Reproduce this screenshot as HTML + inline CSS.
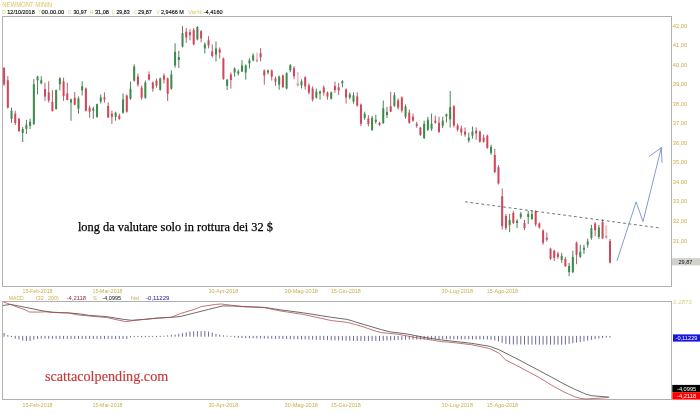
<!DOCTYPE html>
<html><head><meta charset="utf-8"><style>html,body{margin:0;padding:0;background:#fff;}svg{display:block;}</style></head>
<body><svg width="700" height="414" viewBox="0 0 700 414">
<rect width="700" height="414" fill="#fff"/>
<text x="2.2" y="7.0" fill="#dcc45e" font-size="6.6" font-family="Liberation Sans, sans-serif" textLength="50" lengthAdjust="spacingAndGlyphs">NEWMONT MININ</text>
<text x="2.3" y="13.8" fill="#c8d070" font-size="6.0" font-family="Liberation Sans, sans-serif" textLength="3.6" lengthAdjust="spacingAndGlyphs">D</text>
<text x="7.3" y="13.8" fill="#111" font-size="6.0" font-family="Liberation Sans, sans-serif" stroke="#111" stroke-width="0.15" textLength="27.4" lengthAdjust="spacingAndGlyphs">12/10/2018</text>
<text x="38.4" y="13.8" fill="#e0cc70" font-size="6.0" font-family="Liberation Sans, sans-serif" textLength="2.6" lengthAdjust="spacingAndGlyphs">T</text>
<text x="41.6" y="13.8" fill="#111" font-size="6.0" font-family="Liberation Sans, sans-serif" stroke="#111" stroke-width="0.15" textLength="22.7" lengthAdjust="spacingAndGlyphs">00.00.00</text>
<text x="68.1" y="13.8" fill="#dccc70" font-size="6.0" font-family="Liberation Sans, sans-serif" textLength="3.2" lengthAdjust="spacingAndGlyphs">O</text>
<text x="73.4" y="13.8" fill="#111" font-size="6.0" font-family="Liberation Sans, sans-serif" stroke="#111" stroke-width="0.15" textLength="13.4" lengthAdjust="spacingAndGlyphs">30,97</text>
<text x="89.8" y="13.8" fill="#e8c070" font-size="6.0" font-family="Liberation Sans, sans-serif" textLength="3.4" lengthAdjust="spacingAndGlyphs">H</text>
<text x="95.0" y="13.8" fill="#111" font-size="6.0" font-family="Liberation Sans, sans-serif" stroke="#111" stroke-width="0.15" textLength="13.9" lengthAdjust="spacingAndGlyphs">31,08</text>
<text x="111.9" y="13.8" fill="#dcd070" font-size="6.0" font-family="Liberation Sans, sans-serif" textLength="2.8" lengthAdjust="spacingAndGlyphs">L</text>
<text x="116.4" y="13.8" fill="#111" font-size="6.0" font-family="Liberation Sans, sans-serif" stroke="#111" stroke-width="0.15" textLength="13.2" lengthAdjust="spacingAndGlyphs">29,83</text>
<text x="133.9" y="13.8" fill="#dcd070" font-size="6.0" font-family="Liberation Sans, sans-serif" textLength="3.2" lengthAdjust="spacingAndGlyphs">C</text>
<text x="138.1" y="13.8" fill="#111" font-size="6.0" font-family="Liberation Sans, sans-serif" stroke="#111" stroke-width="0.15" textLength="13.8" lengthAdjust="spacingAndGlyphs">29,87</text>
<text x="156.4" y="13.8" fill="#e0d070" font-size="6.0" font-family="Liberation Sans, sans-serif" textLength="3.4" lengthAdjust="spacingAndGlyphs">V</text>
<text x="161.0" y="13.8" fill="#111" font-size="6.0" font-family="Liberation Sans, sans-serif" stroke="#111" stroke-width="0.15" textLength="22.9" lengthAdjust="spacingAndGlyphs">2,9466 M</text>
<text x="187.9" y="13.8" fill="#e0c860" font-size="6.0" font-family="Liberation Sans, sans-serif" textLength="14.5" lengthAdjust="spacingAndGlyphs">Var%</text>
<text x="203.7" y="13.8" fill="#111" font-size="6.0" font-family="Liberation Sans, sans-serif" stroke="#111" stroke-width="0.15" textLength="18.9" lengthAdjust="spacingAndGlyphs">-4,4160</text>
<rect x="2.5" y="16.5" width="669" height="270" fill="none" stroke="#b0b0b0" stroke-width="1"/>
<rect x="2.5" y="301.5" width="669" height="98" fill="none" stroke="#b0b0b0" stroke-width="1"/>
<text x="672.8" y="242.52" fill="#cbae4c" font-size="5.8" font-family="Liberation Sans, sans-serif" textLength="14.4" lengthAdjust="spacingAndGlyphs">31,00</text>
<text x="672.8" y="223.0" fill="#cbae4c" font-size="5.8" font-family="Liberation Sans, sans-serif" textLength="14.4" lengthAdjust="spacingAndGlyphs">32,00</text>
<text x="672.8" y="203.48" fill="#cbae4c" font-size="5.8" font-family="Liberation Sans, sans-serif" textLength="14.4" lengthAdjust="spacingAndGlyphs">33,00</text>
<text x="672.8" y="183.96" fill="#cbae4c" font-size="5.8" font-family="Liberation Sans, sans-serif" textLength="14.4" lengthAdjust="spacingAndGlyphs">34,00</text>
<text x="672.8" y="164.44" fill="#cbae4c" font-size="5.8" font-family="Liberation Sans, sans-serif" textLength="14.4" lengthAdjust="spacingAndGlyphs">35,00</text>
<text x="672.8" y="144.92" fill="#cbae4c" font-size="5.8" font-family="Liberation Sans, sans-serif" textLength="14.4" lengthAdjust="spacingAndGlyphs">36,00</text>
<text x="672.8" y="125.4" fill="#cbae4c" font-size="5.8" font-family="Liberation Sans, sans-serif" textLength="14.4" lengthAdjust="spacingAndGlyphs">37,00</text>
<text x="672.8" y="105.88" fill="#cbae4c" font-size="5.8" font-family="Liberation Sans, sans-serif" textLength="14.4" lengthAdjust="spacingAndGlyphs">38,00</text>
<text x="672.8" y="86.36" fill="#cbae4c" font-size="5.8" font-family="Liberation Sans, sans-serif" textLength="14.4" lengthAdjust="spacingAndGlyphs">39,00</text>
<text x="672.8" y="66.84" fill="#cbae4c" font-size="5.8" font-family="Liberation Sans, sans-serif" textLength="14.4" lengthAdjust="spacingAndGlyphs">40,00</text>
<text x="672.8" y="47.32" fill="#cbae4c" font-size="5.8" font-family="Liberation Sans, sans-serif" textLength="14.4" lengthAdjust="spacingAndGlyphs">41,00</text>
<text x="672.8" y="27.8" fill="#cbae4c" font-size="5.8" font-family="Liberation Sans, sans-serif" textLength="14.4" lengthAdjust="spacingAndGlyphs">42,00</text>
<line x1="4.10" y1="67.0" x2="4.10" y2="86.0" stroke="#a84050" stroke-width="0.85"/>
<rect x="3.10" y="68.0" width="2.0" height="16.3" fill="#d2465a"/>
<line x1="7.82" y1="76.2" x2="7.82" y2="108.6" stroke="#a84050" stroke-width="0.85"/>
<rect x="6.82" y="80.3" width="2.0" height="27.3" fill="#d2465a"/>
<line x1="11.53" y1="107.6" x2="11.53" y2="122.9" stroke="#2e6a3a" stroke-width="0.85"/>
<rect x="10.53" y="110.7" width="2.0" height="8.1" fill="#3d8a4a"/>
<line x1="15.25" y1="110.7" x2="15.25" y2="125.0" stroke="#a84050" stroke-width="0.85"/>
<rect x="14.25" y="113.7" width="2.0" height="9.2" fill="#d2465a"/>
<line x1="18.97" y1="117.8" x2="18.97" y2="132.0" stroke="#a84050" stroke-width="0.85"/>
<rect x="17.97" y="118.8" width="2.0" height="12.2" fill="#d2465a"/>
<line x1="22.69" y1="127.0" x2="22.69" y2="142.0" stroke="#2e6a3a" stroke-width="0.85"/>
<rect x="21.69" y="129.0" width="2.0" height="4.0" fill="#3d8a4a"/>
<line x1="26.40" y1="119.8" x2="26.40" y2="134.0" stroke="#2e6a3a" stroke-width="0.85"/>
<rect x="25.40" y="124.9" width="2.0" height="4.0" fill="#3d8a4a"/>
<line x1="30.12" y1="118.8" x2="30.12" y2="128.9" stroke="#2e6a3a" stroke-width="0.85"/>
<rect x="29.12" y="121.8" width="2.0" height="4.1" fill="#3d8a4a"/>
<line x1="33.84" y1="79.2" x2="33.84" y2="125.0" stroke="#2e6a3a" stroke-width="0.85"/>
<rect x="32.84" y="84.3" width="2.0" height="39.6" fill="#3d8a4a"/>
<line x1="37.55" y1="75.8" x2="37.55" y2="94.5" stroke="#2e6a3a" stroke-width="0.85"/>
<rect x="36.55" y="76.6" width="2.0" height="3.7" fill="#3d8a4a"/>
<line x1="41.27" y1="76.2" x2="41.27" y2="84.3" stroke="#2e6a3a" stroke-width="0.85"/>
<rect x="40.27" y="80.3" width="2.0" height="3.0" fill="#3d8a4a"/>
<line x1="44.99" y1="82.7" x2="44.99" y2="100.9" stroke="#a84050" stroke-width="0.85"/>
<rect x="43.99" y="89.0" width="2.0" height="7.5" fill="#d2465a"/>
<line x1="48.71" y1="81.3" x2="48.71" y2="102.6" stroke="#a84050" stroke-width="0.85"/>
<rect x="47.71" y="92.4" width="2.0" height="8.1" fill="#d2465a"/>
<line x1="52.42" y1="90.2" x2="52.42" y2="111.6" stroke="#a84050" stroke-width="0.85"/>
<rect x="51.42" y="102.0" width="2.0" height="9.0" fill="#d2465a"/>
<line x1="56.14" y1="89.4" x2="56.14" y2="109.7" stroke="#2e6a3a" stroke-width="0.85"/>
<rect x="55.14" y="90.2" width="2.0" height="18.8" fill="#3d8a4a"/>
<line x1="59.86" y1="77.2" x2="59.86" y2="90.4" stroke="#2e6a3a" stroke-width="0.85"/>
<rect x="58.86" y="78.2" width="2.0" height="6.1" fill="#3d8a4a"/>
<line x1="63.57" y1="77.7" x2="63.57" y2="100.9" stroke="#a84050" stroke-width="0.85"/>
<rect x="62.57" y="81.4" width="2.0" height="14.6" fill="#d2465a"/>
<line x1="67.29" y1="82.7" x2="67.29" y2="100.3" stroke="#a84050" stroke-width="0.85"/>
<rect x="66.29" y="93.5" width="2.0" height="6.5" fill="#d2465a"/>
<line x1="71.01" y1="98.5" x2="71.01" y2="120.8" stroke="#2e6a3a" stroke-width="0.85"/>
<rect x="70.01" y="99.5" width="2.0" height="3.1" fill="#3d8a4a"/>
<line x1="74.73" y1="92.1" x2="74.73" y2="105.3" stroke="#a84050" stroke-width="0.85"/>
<rect x="73.73" y="97.8" width="2.0" height="6.9" fill="#d2465a"/>
<line x1="78.44" y1="96.5" x2="78.44" y2="113.7" stroke="#2e6a3a" stroke-width="0.85"/>
<rect x="77.44" y="98.5" width="2.0" height="10.2" fill="#3d8a4a"/>
<line x1="82.16" y1="81.3" x2="82.16" y2="95.5" stroke="#2e6a3a" stroke-width="0.85"/>
<rect x="81.16" y="86.3" width="2.0" height="4.1" fill="#3d8a4a"/>
<line x1="85.88" y1="87.4" x2="85.88" y2="111.7" stroke="#a84050" stroke-width="0.85"/>
<rect x="84.88" y="88.4" width="2.0" height="22.3" fill="#d2465a"/>
<line x1="89.60" y1="105.6" x2="89.60" y2="117.8" stroke="#a84050" stroke-width="0.85"/>
<rect x="88.60" y="107.6" width="2.0" height="4.1" fill="#d2465a"/>
<line x1="93.31" y1="106.6" x2="93.31" y2="118.8" stroke="#2e6a3a" stroke-width="0.85"/>
<rect x="92.31" y="108.6" width="2.0" height="2.1" fill="#3d8a4a"/>
<line x1="97.03" y1="103.6" x2="97.03" y2="117.8" stroke="#2e6a3a" stroke-width="0.85"/>
<rect x="96.03" y="104.2" width="2.0" height="12.6" fill="#3d8a4a"/>
<line x1="100.75" y1="94.5" x2="100.75" y2="103.6" stroke="#2e6a3a" stroke-width="0.85"/>
<rect x="99.75" y="97.5" width="2.0" height="4.1" fill="#3d8a4a"/>
<line x1="104.46" y1="92.4" x2="104.46" y2="102.6" stroke="#a84050" stroke-width="0.85"/>
<rect x="103.46" y="97.5" width="2.0" height="2.0" fill="#d2465a"/>
<line x1="108.18" y1="102.4" x2="108.18" y2="118.0" stroke="#a84050" stroke-width="0.85"/>
<rect x="107.18" y="106.0" width="2.0" height="11.4" fill="#d2465a"/>
<line x1="111.90" y1="110.7" x2="111.90" y2="123.9" stroke="#a84050" stroke-width="0.85"/>
<rect x="110.90" y="113.7" width="2.0" height="3.1" fill="#d2465a"/>
<line x1="115.62" y1="111.7" x2="115.62" y2="120.8" stroke="#2e6a3a" stroke-width="0.85"/>
<rect x="114.62" y="112.7" width="2.0" height="4.1" fill="#3d8a4a"/>
<line x1="119.33" y1="113.7" x2="119.33" y2="119.8" stroke="#a84050" stroke-width="0.85"/>
<rect x="118.33" y="115.7" width="2.0" height="3.1" fill="#d2465a"/>
<line x1="123.05" y1="93.4" x2="123.05" y2="113.7" stroke="#2e6a3a" stroke-width="0.85"/>
<rect x="122.05" y="99.5" width="2.0" height="13.2" fill="#3d8a4a"/>
<line x1="126.77" y1="94.5" x2="126.77" y2="112.7" stroke="#a84050" stroke-width="0.85"/>
<rect x="125.77" y="95.5" width="2.0" height="16.2" fill="#d2465a"/>
<line x1="130.48" y1="81.6" x2="130.48" y2="99.8" stroke="#2e6a3a" stroke-width="0.85"/>
<rect x="129.48" y="88.7" width="2.0" height="10.1" fill="#3d8a4a"/>
<line x1="134.20" y1="64.3" x2="134.20" y2="81.6" stroke="#2e6a3a" stroke-width="0.85"/>
<rect x="133.20" y="66.4" width="2.0" height="14.2" fill="#3d8a4a"/>
<line x1="137.92" y1="73.5" x2="137.92" y2="86.7" stroke="#a84050" stroke-width="0.85"/>
<rect x="136.92" y="76.5" width="2.0" height="8.1" fill="#d2465a"/>
<line x1="141.64" y1="85.6" x2="141.64" y2="99.8" stroke="#a84050" stroke-width="0.85"/>
<rect x="140.64" y="87.7" width="2.0" height="10.1" fill="#d2465a"/>
<line x1="145.35" y1="80.6" x2="145.35" y2="98.8" stroke="#2e6a3a" stroke-width="0.85"/>
<rect x="144.35" y="82.6" width="2.0" height="15.2" fill="#3d8a4a"/>
<line x1="149.07" y1="71.4" x2="149.07" y2="80.6" stroke="#a84050" stroke-width="0.85"/>
<rect x="148.07" y="74.5" width="2.0" height="5.1" fill="#d2465a"/>
<line x1="152.79" y1="81.6" x2="152.79" y2="91.7" stroke="#a84050" stroke-width="0.85"/>
<rect x="151.79" y="82.6" width="2.0" height="6.1" fill="#d2465a"/>
<line x1="156.50" y1="78.5" x2="156.50" y2="87.7" stroke="#a84050" stroke-width="0.85"/>
<rect x="155.50" y="80.6" width="2.0" height="5.0" fill="#d2465a"/>
<line x1="160.22" y1="77.5" x2="160.22" y2="90.7" stroke="#2e6a3a" stroke-width="0.85"/>
<rect x="159.22" y="78.5" width="2.0" height="11.2" fill="#3d8a4a"/>
<line x1="163.94" y1="73.5" x2="163.94" y2="83.6" stroke="#a84050" stroke-width="0.85"/>
<rect x="162.94" y="75.5" width="2.0" height="4.1" fill="#d2465a"/>
<line x1="167.66" y1="77.5" x2="167.66" y2="100.9" stroke="#a84050" stroke-width="0.85"/>
<rect x="166.66" y="78.5" width="2.0" height="15.3" fill="#d2465a"/>
<line x1="171.37" y1="70.4" x2="171.37" y2="89.7" stroke="#2e6a3a" stroke-width="0.85"/>
<rect x="170.37" y="74.5" width="2.0" height="14.2" fill="#3d8a4a"/>
<line x1="175.09" y1="43.2" x2="175.09" y2="67.7" stroke="#2e6a3a" stroke-width="0.85"/>
<rect x="174.09" y="51.8" width="2.0" height="13.7" fill="#3d8a4a"/>
<line x1="178.81" y1="50.8" x2="178.81" y2="68.0" stroke="#2e6a3a" stroke-width="0.85"/>
<rect x="177.81" y="57.0" width="2.0" height="3.0" fill="#3d8a4a"/>
<line x1="182.52" y1="26.1" x2="182.52" y2="47.4" stroke="#2e6a3a" stroke-width="0.85"/>
<rect x="181.52" y="33.2" width="2.0" height="13.2" fill="#3d8a4a"/>
<line x1="186.24" y1="28.0" x2="186.24" y2="42.8" stroke="#a84050" stroke-width="0.85"/>
<rect x="185.24" y="31.7" width="2.0" height="5.8" fill="#d2465a"/>
<line x1="189.96" y1="29.1" x2="189.96" y2="40.3" stroke="#a84050" stroke-width="0.85"/>
<rect x="188.96" y="32.2" width="2.0" height="3.0" fill="#d2465a"/>
<line x1="193.68" y1="28.1" x2="193.68" y2="45.4" stroke="#a84050" stroke-width="0.85"/>
<rect x="192.68" y="30.1" width="2.0" height="14.2" fill="#d2465a"/>
<line x1="197.39" y1="26.1" x2="197.39" y2="40.3" stroke="#2e6a3a" stroke-width="0.85"/>
<rect x="196.39" y="27.1" width="2.0" height="12.2" fill="#3d8a4a"/>
<line x1="201.11" y1="30.1" x2="201.11" y2="42.3" stroke="#a84050" stroke-width="0.85"/>
<rect x="200.11" y="31.2" width="2.0" height="7.1" fill="#d2465a"/>
<line x1="204.83" y1="42.3" x2="204.83" y2="53.5" stroke="#2e6a3a" stroke-width="0.85"/>
<rect x="203.83" y="44.3" width="2.0" height="4.1" fill="#3d8a4a"/>
<line x1="208.54" y1="36.2" x2="208.54" y2="48.4" stroke="#a84050" stroke-width="0.85"/>
<rect x="207.54" y="40.3" width="2.0" height="5.1" fill="#d2465a"/>
<line x1="212.26" y1="44.4" x2="212.26" y2="57.7" stroke="#a84050" stroke-width="0.85"/>
<rect x="211.26" y="51.5" width="2.0" height="4.5" fill="#d2465a"/>
<line x1="215.98" y1="41.5" x2="215.98" y2="61.5" stroke="#2e6a3a" stroke-width="0.85"/>
<rect x="214.98" y="48.5" width="2.0" height="6.0" fill="#3d8a4a"/>
<line x1="219.70" y1="47.4" x2="219.70" y2="58.5" stroke="#a84050" stroke-width="0.85"/>
<rect x="218.70" y="49.4" width="2.0" height="3.1" fill="#d2465a"/>
<line x1="223.41" y1="57.5" x2="223.41" y2="79.8" stroke="#a84050" stroke-width="0.85"/>
<rect x="222.41" y="58.5" width="2.0" height="20.3" fill="#d2465a"/>
<line x1="227.13" y1="78.8" x2="227.13" y2="90.0" stroke="#2e6a3a" stroke-width="0.85"/>
<rect x="226.13" y="79.8" width="2.0" height="6.1" fill="#3d8a4a"/>
<line x1="230.85" y1="72.5" x2="230.85" y2="88.6" stroke="#a84050" stroke-width="0.85"/>
<rect x="229.85" y="74.5" width="2.0" height="5.5" fill="#d2465a"/>
<line x1="234.57" y1="67.4" x2="234.57" y2="76.6" stroke="#2e6a3a" stroke-width="0.85"/>
<rect x="233.57" y="68.5" width="2.0" height="4.0" fill="#3d8a4a"/>
<line x1="238.28" y1="69.5" x2="238.28" y2="75.6" stroke="#2e6a3a" stroke-width="0.85"/>
<rect x="237.28" y="71.5" width="2.0" height="2.0" fill="#3d8a4a"/>
<line x1="242.00" y1="60.2" x2="242.00" y2="72.0" stroke="#2e6a3a" stroke-width="0.85"/>
<rect x="241.00" y="65.5" width="2.0" height="6.0" fill="#3d8a4a"/>
<line x1="245.72" y1="64.4" x2="245.72" y2="79.6" stroke="#2e6a3a" stroke-width="0.85"/>
<rect x="244.72" y="65.4" width="2.0" height="7.1" fill="#3d8a4a"/>
<line x1="249.43" y1="58.3" x2="249.43" y2="68.5" stroke="#2e6a3a" stroke-width="0.85"/>
<rect x="248.43" y="60.3" width="2.0" height="3.1" fill="#3d8a4a"/>
<line x1="253.15" y1="53.2" x2="253.15" y2="61.4" stroke="#2e6a3a" stroke-width="0.85"/>
<rect x="252.15" y="55.3" width="2.0" height="5.0" fill="#3d8a4a"/>
<line x1="256.87" y1="52.1" x2="256.87" y2="62.5" stroke="#e6b8c0" stroke-width="0.8"/>
<rect x="255.87" y="53.3" width="2.0" height="8.7" fill="#ecc8cc"/>
<rect x="255.87" y="59.5" width="2.0" height="2" fill="#d8909c"/>
<line x1="260.59" y1="48.2" x2="260.59" y2="61.4" stroke="#a84050" stroke-width="0.85"/>
<rect x="259.59" y="53.2" width="2.0" height="4.1" fill="#d2465a"/>
<line x1="264.30" y1="69.5" x2="264.30" y2="84.7" stroke="#a84050" stroke-width="0.85"/>
<rect x="263.30" y="70.5" width="2.0" height="5.1" fill="#d2465a"/>
<line x1="268.02" y1="69.5" x2="268.02" y2="74.5" stroke="#2e6a3a" stroke-width="0.85"/>
<rect x="267.02" y="70.5" width="2.0" height="2.0" fill="#3d8a4a"/>
<line x1="271.74" y1="69.5" x2="271.74" y2="80.6" stroke="#a84050" stroke-width="0.85"/>
<rect x="270.74" y="70.5" width="2.0" height="6.1" fill="#d2465a"/>
<line x1="275.45" y1="76.6" x2="275.45" y2="85.7" stroke="#a84050" stroke-width="0.85"/>
<rect x="274.45" y="78.6" width="2.0" height="3.0" fill="#d2465a"/>
<line x1="279.17" y1="75.6" x2="279.17" y2="89.8" stroke="#2e6a3a" stroke-width="0.85"/>
<rect x="278.17" y="76.6" width="2.0" height="8.1" fill="#3d8a4a"/>
<line x1="282.89" y1="74.5" x2="282.89" y2="88.0" stroke="#a84050" stroke-width="0.85"/>
<rect x="281.89" y="75.5" width="2.0" height="11.5" fill="#d2465a"/>
<line x1="286.61" y1="72.2" x2="286.61" y2="89.5" stroke="#2e6a3a" stroke-width="0.85"/>
<rect x="285.61" y="73.2" width="2.0" height="15.3" fill="#3d8a4a"/>
<line x1="290.32" y1="64.1" x2="290.32" y2="72.2" stroke="#2e6a3a" stroke-width="0.85"/>
<rect x="289.32" y="65.1" width="2.0" height="5.1" fill="#3d8a4a"/>
<line x1="294.04" y1="66.1" x2="294.04" y2="79.3" stroke="#a84050" stroke-width="0.85"/>
<rect x="293.04" y="68.2" width="2.0" height="8.1" fill="#d2465a"/>
<line x1="297.76" y1="72.1" x2="297.76" y2="87.4" stroke="#e6b8c0" stroke-width="0.8"/>
<rect x="296.76" y="72.1" width="2.0" height="14.0" fill="#ecc8cc"/>
<rect x="296.76" y="83.6" width="2.0" height="2" fill="#d8909c"/>
<line x1="301.47" y1="79.3" x2="301.47" y2="88.5" stroke="#2e6a3a" stroke-width="0.85"/>
<rect x="300.47" y="81.4" width="2.0" height="4.0" fill="#3d8a4a"/>
<line x1="305.19" y1="76.3" x2="305.19" y2="89.5" stroke="#a84050" stroke-width="0.85"/>
<rect x="304.19" y="77.3" width="2.0" height="9.1" fill="#d2465a"/>
<line x1="308.91" y1="83.4" x2="308.91" y2="94.5" stroke="#a84050" stroke-width="0.85"/>
<rect x="307.91" y="85.4" width="2.0" height="7.1" fill="#d2465a"/>
<line x1="312.63" y1="86.4" x2="312.63" y2="101.6" stroke="#a84050" stroke-width="0.85"/>
<rect x="311.63" y="88.5" width="2.0" height="11.1" fill="#d2465a"/>
<line x1="316.34" y1="88.5" x2="316.34" y2="98.6" stroke="#2e6a3a" stroke-width="0.85"/>
<rect x="315.34" y="91.5" width="2.0" height="6.1" fill="#3d8a4a"/>
<line x1="320.06" y1="90.5" x2="320.06" y2="99.6" stroke="#2e6a3a" stroke-width="0.85"/>
<rect x="319.06" y="91.5" width="2.0" height="2.0" fill="#3d8a4a"/>
<line x1="323.78" y1="85.4" x2="323.78" y2="95.6" stroke="#a84050" stroke-width="0.85"/>
<rect x="322.78" y="87.4" width="2.0" height="5.1" fill="#d2465a"/>
<line x1="327.49" y1="91.5" x2="327.49" y2="99.6" stroke="#a84050" stroke-width="0.85"/>
<rect x="326.49" y="92.5" width="2.0" height="4.1" fill="#d2465a"/>
<line x1="331.21" y1="91.5" x2="331.21" y2="99.6" stroke="#2e6a3a" stroke-width="0.85"/>
<rect x="330.21" y="92.5" width="2.0" height="6.1" fill="#3d8a4a"/>
<line x1="334.93" y1="81.6" x2="334.93" y2="92.8" stroke="#a84050" stroke-width="0.85"/>
<rect x="333.93" y="86.0" width="2.0" height="4.0" fill="#d2465a"/>
<line x1="338.65" y1="83.0" x2="338.65" y2="95.0" stroke="#a84050" stroke-width="0.85"/>
<rect x="337.65" y="87.3" width="2.0" height="3.1" fill="#d2465a"/>
<line x1="342.36" y1="80.2" x2="342.36" y2="87.3" stroke="#2e6a3a" stroke-width="0.85"/>
<rect x="341.36" y="81.2" width="2.0" height="2.1" fill="#3d8a4a"/>
<line x1="346.08" y1="88.3" x2="346.08" y2="103.6" stroke="#a84050" stroke-width="0.85"/>
<rect x="345.08" y="89.4" width="2.0" height="8.1" fill="#d2465a"/>
<line x1="349.80" y1="92.4" x2="349.80" y2="99.5" stroke="#2e6a3a" stroke-width="0.85"/>
<rect x="348.80" y="94.4" width="2.0" height="3.1" fill="#3d8a4a"/>
<line x1="353.51" y1="92.4" x2="353.51" y2="103.6" stroke="#2e6a3a" stroke-width="0.85"/>
<rect x="352.51" y="95.4" width="2.0" height="6.1" fill="#3d8a4a"/>
<line x1="357.23" y1="92.4" x2="357.23" y2="106.6" stroke="#a84050" stroke-width="0.85"/>
<rect x="356.23" y="96.5" width="2.0" height="9.1" fill="#d2465a"/>
<line x1="360.95" y1="103.6" x2="360.95" y2="125.9" stroke="#a84050" stroke-width="0.85"/>
<rect x="359.95" y="104.6" width="2.0" height="19.2" fill="#d2465a"/>
<line x1="364.67" y1="111.7" x2="364.67" y2="119.8" stroke="#2e6a3a" stroke-width="0.85"/>
<rect x="363.67" y="113.7" width="2.0" height="4.1" fill="#3d8a4a"/>
<line x1="368.38" y1="115.2" x2="368.38" y2="126.4" stroke="#a84050" stroke-width="0.85"/>
<rect x="367.38" y="118.5" width="2.0" height="5.5" fill="#d2465a"/>
<line x1="372.10" y1="115.7" x2="372.10" y2="130.9" stroke="#2e6a3a" stroke-width="0.85"/>
<rect x="371.10" y="117.8" width="2.0" height="12.1" fill="#3d8a4a"/>
<line x1="375.82" y1="114.7" x2="375.82" y2="123.8" stroke="#2e6a3a" stroke-width="0.85"/>
<rect x="374.82" y="119.7" width="2.0" height="2.1" fill="#3d8a4a"/>
<line x1="379.53" y1="121.8" x2="379.53" y2="125.9" stroke="#a84050" stroke-width="0.85"/>
<rect x="378.53" y="122.8" width="2.0" height="2.0" fill="#d2465a"/>
<line x1="383.25" y1="100.5" x2="383.25" y2="123.7" stroke="#2e6a3a" stroke-width="0.85"/>
<rect x="382.25" y="108.2" width="2.0" height="15.0" fill="#3d8a4a"/>
<line x1="386.97" y1="106.8" x2="386.97" y2="117.9" stroke="#2e6a3a" stroke-width="0.85"/>
<rect x="385.97" y="112.0" width="2.0" height="3.0" fill="#3d8a4a"/>
<line x1="390.69" y1="91.8" x2="390.69" y2="112.1" stroke="#a84050" stroke-width="0.85"/>
<rect x="389.69" y="106.3" width="2.0" height="5.3" fill="#d2465a"/>
<line x1="394.40" y1="92.3" x2="394.40" y2="106.8" stroke="#2e6a3a" stroke-width="0.85"/>
<rect x="393.40" y="95.2" width="2.0" height="10.6" fill="#3d8a4a"/>
<line x1="398.12" y1="98.4" x2="398.12" y2="109.6" stroke="#a84050" stroke-width="0.85"/>
<rect x="397.12" y="100.4" width="2.0" height="7.1" fill="#d2465a"/>
<line x1="401.84" y1="96.4" x2="401.84" y2="112.6" stroke="#a84050" stroke-width="0.85"/>
<rect x="400.84" y="97.4" width="2.0" height="13.2" fill="#d2465a"/>
<line x1="405.56" y1="104.5" x2="405.56" y2="118.7" stroke="#2e6a3a" stroke-width="0.85"/>
<rect x="404.56" y="106.5" width="2.0" height="10.2" fill="#3d8a4a"/>
<line x1="409.27" y1="109.6" x2="409.27" y2="123.8" stroke="#a84050" stroke-width="0.85"/>
<rect x="408.27" y="112.6" width="2.0" height="10.1" fill="#d2465a"/>
<line x1="412.99" y1="113.6" x2="412.99" y2="121.7" stroke="#a84050" stroke-width="0.85"/>
<rect x="411.99" y="116.7" width="2.0" height="4.0" fill="#d2465a"/>
<line x1="416.71" y1="121.7" x2="416.71" y2="127.8" stroke="#a84050" stroke-width="0.85"/>
<rect x="415.71" y="123.7" width="2.0" height="2.1" fill="#d2465a"/>
<line x1="420.42" y1="126.8" x2="420.42" y2="135.9" stroke="#a84050" stroke-width="0.85"/>
<rect x="419.42" y="127.8" width="2.0" height="7.1" fill="#d2465a"/>
<line x1="424.14" y1="120.7" x2="424.14" y2="139.0" stroke="#2e6a3a" stroke-width="0.85"/>
<rect x="423.14" y="123.8" width="2.0" height="14.2" fill="#3d8a4a"/>
<line x1="427.86" y1="116.7" x2="427.86" y2="130.9" stroke="#2e6a3a" stroke-width="0.85"/>
<rect x="426.86" y="119.7" width="2.0" height="10.1" fill="#3d8a4a"/>
<line x1="431.58" y1="113.6" x2="431.58" y2="130.9" stroke="#2e6a3a" stroke-width="0.85"/>
<rect x="430.58" y="123.8" width="2.0" height="5.0" fill="#3d8a4a"/>
<line x1="435.29" y1="115.6" x2="435.29" y2="123.8" stroke="#a84050" stroke-width="0.85"/>
<rect x="434.29" y="120.7" width="2.0" height="2.0" fill="#d2465a"/>
<line x1="439.01" y1="116.7" x2="439.01" y2="132.9" stroke="#a84050" stroke-width="0.85"/>
<rect x="438.01" y="122.7" width="2.0" height="9.2" fill="#d2465a"/>
<line x1="442.73" y1="116.7" x2="442.73" y2="128.0" stroke="#2e6a3a" stroke-width="0.85"/>
<rect x="441.73" y="120.7" width="2.0" height="5.1" fill="#3d8a4a"/>
<line x1="446.44" y1="113.5" x2="446.44" y2="122.5" stroke="#2e6a3a" stroke-width="0.85"/>
<rect x="445.44" y="114.3" width="2.0" height="2.1" fill="#3d8a4a"/>
<line x1="450.16" y1="91.0" x2="450.16" y2="127.5" stroke="#2e6a3a" stroke-width="0.85"/>
<rect x="449.16" y="107.2" width="2.0" height="12.2" fill="#3d8a4a"/>
<line x1="453.88" y1="105.2" x2="453.88" y2="127.5" stroke="#a84050" stroke-width="0.85"/>
<rect x="452.88" y="106.2" width="2.0" height="19.3" fill="#d2465a"/>
<line x1="457.60" y1="123.5" x2="457.60" y2="131.6" stroke="#a84050" stroke-width="0.85"/>
<rect x="456.60" y="125.5" width="2.0" height="4.1" fill="#d2465a"/>
<line x1="461.31" y1="125.5" x2="461.31" y2="135.6" stroke="#a84050" stroke-width="0.85"/>
<rect x="460.31" y="128.5" width="2.0" height="4.1" fill="#d2465a"/>
<line x1="465.03" y1="127.5" x2="465.03" y2="136.7" stroke="#a84050" stroke-width="0.85"/>
<rect x="464.03" y="131.6" width="2.0" height="3.0" fill="#d2465a"/>
<line x1="468.75" y1="132.6" x2="468.75" y2="142.7" stroke="#2e6a3a" stroke-width="0.85"/>
<rect x="467.75" y="137.7" width="2.0" height="3.0" fill="#3d8a4a"/>
<line x1="472.46" y1="126.5" x2="472.46" y2="138.7" stroke="#2e6a3a" stroke-width="0.85"/>
<rect x="471.46" y="131.6" width="2.0" height="4.0" fill="#3d8a4a"/>
<line x1="476.18" y1="127.5" x2="476.18" y2="139.7" stroke="#a84050" stroke-width="0.85"/>
<rect x="475.18" y="130.6" width="2.0" height="3.0" fill="#d2465a"/>
<line x1="479.90" y1="130.6" x2="479.90" y2="142.7" stroke="#a84050" stroke-width="0.85"/>
<rect x="478.90" y="131.6" width="2.0" height="10.1" fill="#d2465a"/>
<line x1="483.62" y1="134.6" x2="483.62" y2="142.7" stroke="#a84050" stroke-width="0.85"/>
<rect x="482.62" y="137.7" width="2.0" height="4.0" fill="#d2465a"/>
<line x1="487.33" y1="134.6" x2="487.33" y2="148.8" stroke="#a84050" stroke-width="0.85"/>
<rect x="486.33" y="135.6" width="2.0" height="12.2" fill="#d2465a"/>
<line x1="491.05" y1="144.8" x2="491.05" y2="154.9" stroke="#2e6a3a" stroke-width="0.85"/>
<rect x="490.05" y="146.8" width="2.0" height="6.1" fill="#3d8a4a"/>
<line x1="494.77" y1="148.8" x2="494.77" y2="173.3" stroke="#a84050" stroke-width="0.85"/>
<rect x="493.77" y="154.9" width="2.0" height="17.1" fill="#d2465a"/>
<line x1="498.48" y1="165.2" x2="498.48" y2="184.5" stroke="#a84050" stroke-width="0.85"/>
<rect x="497.48" y="167.2" width="2.0" height="16.3" fill="#d2465a"/>
<line x1="502.20" y1="188.5" x2="502.20" y2="229.6" stroke="#a84050" stroke-width="0.85"/>
<rect x="501.20" y="196.3" width="2.0" height="29.8" fill="#d2465a"/>
<line x1="505.92" y1="213.9" x2="505.92" y2="230.1" stroke="#a84050" stroke-width="0.85"/>
<rect x="504.92" y="216.0" width="2.0" height="12.1" fill="#d2465a"/>
<line x1="509.64" y1="213.9" x2="509.64" y2="232.2" stroke="#2e6a3a" stroke-width="0.85"/>
<rect x="508.64" y="220.0" width="2.0" height="5.0" fill="#3d8a4a"/>
<line x1="513.35" y1="210.9" x2="513.35" y2="224.0" stroke="#a84050" stroke-width="0.85"/>
<rect x="512.35" y="212.9" width="2.0" height="10.1" fill="#d2465a"/>
<line x1="517.07" y1="219.0" x2="517.07" y2="228.1" stroke="#2e6a3a" stroke-width="0.85"/>
<rect x="516.07" y="221.0" width="2.0" height="2.0" fill="#3d8a4a"/>
<line x1="520.79" y1="211.9" x2="520.79" y2="219.0" stroke="#2e6a3a" stroke-width="0.85"/>
<rect x="519.79" y="213.9" width="2.0" height="3.1" fill="#3d8a4a"/>
<line x1="524.50" y1="220.0" x2="524.50" y2="230.1" stroke="#a84050" stroke-width="0.85"/>
<rect x="523.50" y="223.0" width="2.0" height="5.1" fill="#d2465a"/>
<line x1="528.22" y1="210.9" x2="528.22" y2="224.0" stroke="#2e6a3a" stroke-width="0.85"/>
<rect x="527.22" y="213.9" width="2.0" height="3.1" fill="#3d8a4a"/>
<line x1="531.94" y1="210.9" x2="531.94" y2="220.0" stroke="#2e6a3a" stroke-width="0.85"/>
<rect x="530.94" y="213.9" width="2.0" height="5.1" fill="#3d8a4a"/>
<line x1="535.66" y1="210.2" x2="535.66" y2="226.4" stroke="#a84050" stroke-width="0.85"/>
<rect x="534.66" y="211.2" width="2.0" height="13.2" fill="#d2465a"/>
<line x1="539.37" y1="222.4" x2="539.37" y2="228.5" stroke="#a84050" stroke-width="0.85"/>
<rect x="538.37" y="223.4" width="2.0" height="4.1" fill="#d2465a"/>
<line x1="543.09" y1="229.5" x2="543.09" y2="244.7" stroke="#a84050" stroke-width="0.85"/>
<rect x="542.09" y="230.5" width="2.0" height="12.2" fill="#d2465a"/>
<line x1="546.81" y1="232.5" x2="546.81" y2="241.6" stroke="#a84050" stroke-width="0.85"/>
<rect x="545.81" y="237.6" width="2.0" height="2.0" fill="#d2465a"/>
<line x1="550.53" y1="247.7" x2="550.53" y2="259.9" stroke="#a84050" stroke-width="0.85"/>
<rect x="549.53" y="248.7" width="2.0" height="10.2" fill="#d2465a"/>
<line x1="554.24" y1="249.8" x2="554.24" y2="260.9" stroke="#a84050" stroke-width="0.85"/>
<rect x="553.24" y="250.8" width="2.0" height="7.1" fill="#d2465a"/>
<line x1="557.96" y1="251.8" x2="557.96" y2="258.9" stroke="#a84050" stroke-width="0.85"/>
<rect x="556.96" y="253.8" width="2.0" height="3.1" fill="#d2465a"/>
<line x1="561.68" y1="252.8" x2="561.68" y2="262.9" stroke="#2e6a3a" stroke-width="0.85"/>
<rect x="560.68" y="255.8" width="2.0" height="4.1" fill="#3d8a4a"/>
<line x1="565.39" y1="256.9" x2="565.39" y2="267.0" stroke="#a84050" stroke-width="0.85"/>
<rect x="564.39" y="258.9" width="2.0" height="7.1" fill="#d2465a"/>
<line x1="569.11" y1="262.9" x2="569.11" y2="276.1" stroke="#2e6a3a" stroke-width="0.85"/>
<rect x="568.11" y="266.0" width="2.0" height="6.1" fill="#3d8a4a"/>
<line x1="572.83" y1="250.8" x2="572.83" y2="273.1" stroke="#2e6a3a" stroke-width="0.85"/>
<rect x="571.83" y="256.9" width="2.0" height="15.2" fill="#3d8a4a"/>
<line x1="576.55" y1="241.6" x2="576.55" y2="264.2" stroke="#a84050" stroke-width="0.85"/>
<rect x="575.55" y="242.7" width="2.0" height="12.1" fill="#d2465a"/>
<line x1="580.26" y1="244.7" x2="580.26" y2="257.9" stroke="#2e6a3a" stroke-width="0.85"/>
<rect x="579.26" y="251.8" width="2.0" height="5.1" fill="#3d8a4a"/>
<line x1="583.98" y1="244.7" x2="583.98" y2="253.8" stroke="#2e6a3a" stroke-width="0.85"/>
<rect x="582.98" y="247.7" width="2.0" height="2.1" fill="#3d8a4a"/>
<line x1="587.70" y1="238.6" x2="587.70" y2="247.7" stroke="#2e6a3a" stroke-width="0.85"/>
<rect x="586.70" y="241.6" width="2.0" height="3.1" fill="#3d8a4a"/>
<line x1="591.41" y1="224.8" x2="591.41" y2="239.7" stroke="#2e6a3a" stroke-width="0.85"/>
<rect x="590.41" y="228.2" width="2.0" height="9.5" fill="#3d8a4a"/>
<line x1="595.13" y1="222.1" x2="595.13" y2="236.3" stroke="#a84050" stroke-width="0.85"/>
<rect x="594.13" y="223.5" width="2.0" height="6.7" fill="#d2465a"/>
<line x1="598.85" y1="224.8" x2="598.85" y2="239.0" stroke="#2e6a3a" stroke-width="0.85"/>
<rect x="597.85" y="227.5" width="2.0" height="9.5" fill="#3d8a4a"/>
<line x1="602.57" y1="219.4" x2="602.57" y2="239.0" stroke="#a84050" stroke-width="0.85"/>
<rect x="601.57" y="222.1" width="2.0" height="16.2" fill="#d2465a"/>
<line x1="606.28" y1="224.8" x2="606.28" y2="239.7" stroke="#e6b8c0" stroke-width="0.8"/>
<rect x="605.28" y="225.5" width="2.0" height="12.8" fill="#ecc8cc"/>
<rect x="605.28" y="235.8" width="2.0" height="2" fill="#d8909c"/>
<line x1="610.00" y1="239.0" x2="610.00" y2="263.4" stroke="#a84050" stroke-width="0.85"/>
<rect x="609.00" y="241.1" width="2.0" height="21.5" fill="#d2465a"/>
<line x1="465" y1="201.8" x2="660" y2="228" stroke="#444" stroke-width="0.75" stroke-dasharray="2.8 2.7"/>
<polyline points="617,260.9 636.1,201.9 643,221.6 661.3,147.7" fill="none" stroke="#4f6fc0" stroke-width="0.7"/>
<polyline points="649,156.5 661.3,147.7 662,162.7" fill="none" stroke="#4f6fc0" stroke-width="0.7"/>
<text x="77.9" y="230.8" fill="#000" font-size="13" font-family="Liberation Serif, sans-serif" stroke="#000" stroke-width="0.25" textLength="195" lengthAdjust="spacingAndGlyphs">long da valutare solo in rottura dei 32 $</text>
<rect x="672" y="258.1" width="28" height="7.3" fill="#d3d1cc"/>
<text x="678.5" y="264.2" fill="#111" font-size="6.0" font-family="Liberation Sans, sans-serif" textLength="13.9" lengthAdjust="spacingAndGlyphs">29,87</text>
<text x="22.5" y="293.2" fill="#cbae4c" font-size="5.4" font-family="Liberation Sans, sans-serif" textLength="30" lengthAdjust="spacingAndGlyphs">15-Feb-2018</text>
<text x="22.5" y="406.8" fill="#cbae4c" font-size="5.4" font-family="Liberation Sans, sans-serif" textLength="30" lengthAdjust="spacingAndGlyphs">15-Feb-2018</text>
<text x="92.5" y="293.2" fill="#cbae4c" font-size="5.4" font-family="Liberation Sans, sans-serif" textLength="30" lengthAdjust="spacingAndGlyphs">15-Mar-2018</text>
<text x="92.5" y="406.8" fill="#cbae4c" font-size="5.4" font-family="Liberation Sans, sans-serif" textLength="30" lengthAdjust="spacingAndGlyphs">15-Mar-2018</text>
<text x="208.5" y="293.2" fill="#cbae4c" font-size="5.4" font-family="Liberation Sans, sans-serif" textLength="29.8" lengthAdjust="spacingAndGlyphs">30-Apr-2018</text>
<text x="208.5" y="406.8" fill="#cbae4c" font-size="5.4" font-family="Liberation Sans, sans-serif" textLength="29.8" lengthAdjust="spacingAndGlyphs">30-Apr-2018</text>
<text x="284.5" y="293.2" fill="#cbae4c" font-size="5.4" font-family="Liberation Sans, sans-serif" textLength="33.5" lengthAdjust="spacingAndGlyphs">30-Mag-2018</text>
<text x="284.5" y="406.8" fill="#cbae4c" font-size="5.4" font-family="Liberation Sans, sans-serif" textLength="33.5" lengthAdjust="spacingAndGlyphs">30-Mag-2018</text>
<text x="330.8" y="293.2" fill="#cbae4c" font-size="5.4" font-family="Liberation Sans, sans-serif" textLength="30" lengthAdjust="spacingAndGlyphs">15-Giu-2018</text>
<text x="330.8" y="406.8" fill="#cbae4c" font-size="5.4" font-family="Liberation Sans, sans-serif" textLength="30" lengthAdjust="spacingAndGlyphs">15-Giu-2018</text>
<text x="441.6" y="293.2" fill="#cbae4c" font-size="5.4" font-family="Liberation Sans, sans-serif" textLength="31.4" lengthAdjust="spacingAndGlyphs">30-Lug-2018</text>
<text x="441.6" y="406.8" fill="#cbae4c" font-size="5.4" font-family="Liberation Sans, sans-serif" textLength="31.4" lengthAdjust="spacingAndGlyphs">30-Lug-2018</text>
<text x="486.8" y="293.2" fill="#cbae4c" font-size="5.4" font-family="Liberation Sans, sans-serif" textLength="31.2" lengthAdjust="spacingAndGlyphs">15-Ago-2018</text>
<text x="486.8" y="406.8" fill="#cbae4c" font-size="5.4" font-family="Liberation Sans, sans-serif" textLength="31.2" lengthAdjust="spacingAndGlyphs">15-Ago-2018</text>
<text x="8.75" y="299.6" fill="#cbae4c" font-size="5.8" font-family="Liberation Sans, sans-serif" textLength="15" lengthAdjust="spacingAndGlyphs">MACD</text>
<text x="36" y="299.6" fill="#cbae4c" font-size="5.8" font-family="Liberation Sans, sans-serif" textLength="22.7" lengthAdjust="spacingAndGlyphs">(32 , 200)</text>
<text x="66.6" y="299.6" fill="#8a2838" font-size="5.8" font-family="Liberation Sans, sans-serif" textLength="19.4" lengthAdjust="spacingAndGlyphs">-4,2118</text>
<text x="93" y="299.6" fill="#cbae4c" font-size="5.8" font-family="Liberation Sans, sans-serif">S</text>
<text x="102.5" y="299.6" fill="#111" font-size="5.8" font-family="Liberation Sans, sans-serif" textLength="18.5" lengthAdjust="spacingAndGlyphs">-4,0995</text>
<text x="131" y="299.6" fill="#cbae4c" font-size="5.8" font-family="Liberation Sans, sans-serif" textLength="8" lengthAdjust="spacingAndGlyphs">hist</text>
<text x="146" y="299.6" fill="#1a1a8a" font-size="5.8" font-family="Liberation Sans, sans-serif" textLength="23.5" lengthAdjust="spacingAndGlyphs">-0,11229</text>
<text x="673" y="304.1" fill="#ddd088" font-size="5.8" font-family="Liberation Sans, sans-serif" textLength="19" lengthAdjust="spacingAndGlyphs">2,2873</text>
<rect x="673" y="334.4" width="27" height="7.2" fill="#1616e0"/>
<text x="675.5" y="340.2" fill="#fff" font-size="5.8" font-family="Liberation Sans, sans-serif" textLength="22" lengthAdjust="spacingAndGlyphs">-0,11229</text>
<rect x="672.3" y="384.9" width="27.7" height="7.3" fill="#000"/>
<text x="677" y="390.8" fill="#fff" font-size="5.8" font-family="Liberation Sans, sans-serif" textLength="19.2" lengthAdjust="spacingAndGlyphs">-4,0995</text>
<rect x="672.3" y="392.2" width="27.7" height="7.4" fill="#f00"/>
<text x="677" y="398.1" fill="#fff" font-size="5.8" font-family="Liberation Sans, sans-serif" textLength="19.2" lengthAdjust="spacingAndGlyphs">-4,2118</text>
<line x1="4.10" y1="332.90" x2="4.10" y2="336.70" stroke="#5a5a90" stroke-width="0.9"/>
<line x1="7.82" y1="335.06" x2="7.82" y2="336.70" stroke="#5a5a90" stroke-width="0.9"/>
<line x1="11.53" y1="335.90" x2="11.53" y2="337.06" stroke="#5a5a90" stroke-width="0.9"/>
<line x1="15.25" y1="335.90" x2="15.25" y2="338.73" stroke="#5a5a90" stroke-width="0.9"/>
<line x1="18.97" y1="335.90" x2="18.97" y2="339.47" stroke="#5a5a90" stroke-width="0.9"/>
<line x1="22.69" y1="335.90" x2="22.69" y2="340.55" stroke="#5a5a90" stroke-width="0.9"/>
<line x1="26.40" y1="335.90" x2="26.40" y2="341.00" stroke="#5a5a90" stroke-width="0.9"/>
<line x1="30.12" y1="335.90" x2="30.12" y2="340.96" stroke="#5a5a90" stroke-width="0.9"/>
<line x1="33.84" y1="335.90" x2="33.84" y2="339.70" stroke="#5a5a90" stroke-width="0.9"/>
<line x1="37.55" y1="335.90" x2="37.55" y2="338.88" stroke="#5a5a90" stroke-width="0.9"/>
<line x1="41.27" y1="335.90" x2="41.27" y2="338.60" stroke="#5a5a90" stroke-width="0.9"/>
<line x1="44.99" y1="335.90" x2="44.99" y2="338.66" stroke="#5a5a90" stroke-width="0.9"/>
<line x1="48.71" y1="335.90" x2="48.71" y2="338.72" stroke="#5a5a90" stroke-width="0.9"/>
<line x1="52.42" y1="335.90" x2="52.42" y2="338.78" stroke="#5a5a90" stroke-width="0.9"/>
<line x1="56.14" y1="335.90" x2="56.14" y2="338.84" stroke="#5a5a90" stroke-width="0.9"/>
<line x1="59.86" y1="335.90" x2="59.86" y2="338.90" stroke="#5a5a90" stroke-width="0.9"/>
<line x1="63.57" y1="335.90" x2="63.57" y2="338.90" stroke="#5a5a90" stroke-width="0.9"/>
<line x1="67.29" y1="335.90" x2="67.29" y2="338.90" stroke="#5a5a90" stroke-width="0.9"/>
<line x1="71.01" y1="335.90" x2="71.01" y2="338.90" stroke="#5a5a90" stroke-width="0.9"/>
<line x1="74.73" y1="335.90" x2="74.73" y2="338.90" stroke="#5a5a90" stroke-width="0.9"/>
<line x1="78.44" y1="335.90" x2="78.44" y2="338.90" stroke="#5a5a90" stroke-width="0.9"/>
<line x1="82.16" y1="335.90" x2="82.16" y2="338.90" stroke="#5a5a90" stroke-width="0.9"/>
<line x1="85.88" y1="335.90" x2="85.88" y2="338.90" stroke="#5a5a90" stroke-width="0.9"/>
<line x1="89.60" y1="335.90" x2="89.60" y2="338.90" stroke="#5a5a90" stroke-width="0.9"/>
<line x1="93.31" y1="335.90" x2="93.31" y2="338.90" stroke="#5a5a90" stroke-width="0.9"/>
<line x1="97.03" y1="335.90" x2="97.03" y2="338.90" stroke="#5a5a90" stroke-width="0.9"/>
<line x1="100.75" y1="335.90" x2="100.75" y2="338.90" stroke="#5a5a90" stroke-width="0.9"/>
<line x1="104.46" y1="335.90" x2="104.46" y2="338.90" stroke="#5a5a90" stroke-width="0.9"/>
<line x1="108.18" y1="335.90" x2="108.18" y2="338.90" stroke="#5a5a90" stroke-width="0.9"/>
<line x1="111.90" y1="335.90" x2="111.90" y2="338.90" stroke="#5a5a90" stroke-width="0.9"/>
<line x1="115.62" y1="335.90" x2="115.62" y2="338.90" stroke="#5a5a90" stroke-width="0.9"/>
<line x1="119.33" y1="335.90" x2="119.33" y2="338.90" stroke="#5a5a90" stroke-width="0.9"/>
<line x1="123.05" y1="335.90" x2="123.05" y2="338.90" stroke="#5a5a90" stroke-width="0.9"/>
<line x1="126.77" y1="335.90" x2="126.77" y2="338.90" stroke="#5a5a90" stroke-width="0.9"/>
<line x1="130.48" y1="335.90" x2="130.48" y2="337.41" stroke="#5a5a90" stroke-width="0.9"/>
<line x1="134.20" y1="335.90" x2="134.20" y2="337.10" stroke="#5a5a90" stroke-width="0.9"/>
<line x1="137.92" y1="335.90" x2="137.92" y2="337.10" stroke="#5a5a90" stroke-width="0.9"/>
<line x1="141.64" y1="335.90" x2="141.64" y2="337.10" stroke="#5a5a90" stroke-width="0.9"/>
<line x1="145.35" y1="335.90" x2="145.35" y2="337.10" stroke="#5a5a90" stroke-width="0.9"/>
<line x1="149.07" y1="335.90" x2="149.07" y2="337.10" stroke="#5a5a90" stroke-width="0.9"/>
<line x1="152.79" y1="335.90" x2="152.79" y2="337.10" stroke="#5a5a90" stroke-width="0.9"/>
<line x1="156.50" y1="335.90" x2="156.50" y2="337.10" stroke="#5a5a90" stroke-width="0.9"/>
<line x1="160.22" y1="335.90" x2="160.22" y2="337.03" stroke="#5a5a90" stroke-width="0.9"/>
<line x1="163.94" y1="335.84" x2="163.94" y2="336.70" stroke="#5a5a90" stroke-width="0.9"/>
<line x1="167.66" y1="335.23" x2="167.66" y2="336.70" stroke="#5a5a90" stroke-width="0.9"/>
<line x1="171.37" y1="334.86" x2="171.37" y2="336.70" stroke="#5a5a90" stroke-width="0.9"/>
<line x1="175.09" y1="334.48" x2="175.09" y2="336.70" stroke="#5a5a90" stroke-width="0.9"/>
<line x1="178.81" y1="333.85" x2="178.81" y2="336.70" stroke="#5a5a90" stroke-width="0.9"/>
<line x1="182.52" y1="333.22" x2="182.52" y2="336.70" stroke="#5a5a90" stroke-width="0.9"/>
<line x1="186.24" y1="332.53" x2="186.24" y2="336.70" stroke="#5a5a90" stroke-width="0.9"/>
<line x1="189.96" y1="331.74" x2="189.96" y2="336.70" stroke="#5a5a90" stroke-width="0.9"/>
<line x1="193.68" y1="331.26" x2="193.68" y2="336.70" stroke="#5a5a90" stroke-width="0.9"/>
<line x1="197.39" y1="331.18" x2="197.39" y2="336.70" stroke="#5a5a90" stroke-width="0.9"/>
<line x1="201.11" y1="331.09" x2="201.11" y2="336.70" stroke="#5a5a90" stroke-width="0.9"/>
<line x1="204.83" y1="331.00" x2="204.83" y2="336.70" stroke="#5a5a90" stroke-width="0.9"/>
<line x1="208.54" y1="331.57" x2="208.54" y2="336.70" stroke="#5a5a90" stroke-width="0.9"/>
<line x1="212.26" y1="332.55" x2="212.26" y2="336.70" stroke="#5a5a90" stroke-width="0.9"/>
<line x1="215.98" y1="333.79" x2="215.98" y2="336.70" stroke="#5a5a90" stroke-width="0.9"/>
<line x1="219.70" y1="334.60" x2="219.70" y2="336.70" stroke="#5a5a90" stroke-width="0.9"/>
<line x1="223.41" y1="335.27" x2="223.41" y2="336.70" stroke="#5a5a90" stroke-width="0.9"/>
<line x1="227.13" y1="335.74" x2="227.13" y2="336.70" stroke="#5a5a90" stroke-width="0.9"/>
<line x1="230.85" y1="335.90" x2="230.85" y2="336.78" stroke="#5a5a90" stroke-width="0.9"/>
<line x1="234.57" y1="335.90" x2="234.57" y2="337.44" stroke="#5a5a90" stroke-width="0.9"/>
<line x1="238.28" y1="335.90" x2="238.28" y2="337.91" stroke="#5a5a90" stroke-width="0.9"/>
<line x1="242.00" y1="335.90" x2="242.00" y2="338.01" stroke="#5a5a90" stroke-width="0.9"/>
<line x1="245.72" y1="335.90" x2="245.72" y2="338.11" stroke="#5a5a90" stroke-width="0.9"/>
<line x1="249.43" y1="335.90" x2="249.43" y2="338.21" stroke="#5a5a90" stroke-width="0.9"/>
<line x1="253.15" y1="335.90" x2="253.15" y2="338.31" stroke="#5a5a90" stroke-width="0.9"/>
<line x1="256.87" y1="335.90" x2="256.87" y2="338.41" stroke="#5a5a90" stroke-width="0.9"/>
<line x1="260.59" y1="335.90" x2="260.59" y2="338.51" stroke="#5a5a90" stroke-width="0.9"/>
<line x1="264.30" y1="335.90" x2="264.30" y2="338.59" stroke="#5a5a90" stroke-width="0.9"/>
<line x1="268.02" y1="335.90" x2="268.02" y2="338.66" stroke="#5a5a90" stroke-width="0.9"/>
<line x1="271.74" y1="335.90" x2="271.74" y2="338.73" stroke="#5a5a90" stroke-width="0.9"/>
<line x1="275.45" y1="335.90" x2="275.45" y2="338.81" stroke="#5a5a90" stroke-width="0.9"/>
<line x1="279.17" y1="335.90" x2="279.17" y2="338.88" stroke="#5a5a90" stroke-width="0.9"/>
<line x1="282.89" y1="335.90" x2="282.89" y2="338.96" stroke="#5a5a90" stroke-width="0.9"/>
<line x1="286.61" y1="335.90" x2="286.61" y2="339.03" stroke="#5a5a90" stroke-width="0.9"/>
<line x1="290.32" y1="335.90" x2="290.32" y2="339.11" stroke="#5a5a90" stroke-width="0.9"/>
<line x1="294.04" y1="335.90" x2="294.04" y2="339.21" stroke="#5a5a90" stroke-width="0.9"/>
<line x1="297.76" y1="335.90" x2="297.76" y2="339.31" stroke="#5a5a90" stroke-width="0.9"/>
<line x1="301.47" y1="335.90" x2="301.47" y2="339.41" stroke="#5a5a90" stroke-width="0.9"/>
<line x1="305.19" y1="335.90" x2="305.19" y2="339.51" stroke="#5a5a90" stroke-width="0.9"/>
<line x1="308.91" y1="335.90" x2="308.91" y2="339.60" stroke="#5a5a90" stroke-width="0.9"/>
<line x1="312.63" y1="335.90" x2="312.63" y2="339.70" stroke="#5a5a90" stroke-width="0.9"/>
<line x1="316.34" y1="335.90" x2="316.34" y2="339.80" stroke="#5a5a90" stroke-width="0.9"/>
<line x1="320.06" y1="335.90" x2="320.06" y2="339.90" stroke="#5a5a90" stroke-width="0.9"/>
<line x1="323.78" y1="335.90" x2="323.78" y2="340.01" stroke="#5a5a90" stroke-width="0.9"/>
<line x1="327.49" y1="335.90" x2="327.49" y2="340.12" stroke="#5a5a90" stroke-width="0.9"/>
<line x1="331.21" y1="335.90" x2="331.21" y2="340.24" stroke="#5a5a90" stroke-width="0.9"/>
<line x1="334.93" y1="335.90" x2="334.93" y2="340.35" stroke="#5a5a90" stroke-width="0.9"/>
<line x1="338.65" y1="335.90" x2="338.65" y2="340.46" stroke="#5a5a90" stroke-width="0.9"/>
<line x1="342.36" y1="335.90" x2="342.36" y2="340.57" stroke="#5a5a90" stroke-width="0.9"/>
<line x1="346.08" y1="335.90" x2="346.08" y2="340.68" stroke="#5a5a90" stroke-width="0.9"/>
<line x1="349.80" y1="335.90" x2="349.80" y2="340.79" stroke="#5a5a90" stroke-width="0.9"/>
<line x1="353.51" y1="335.90" x2="353.51" y2="340.84" stroke="#5a5a90" stroke-width="0.9"/>
<line x1="357.23" y1="335.90" x2="357.23" y2="340.89" stroke="#5a5a90" stroke-width="0.9"/>
<line x1="360.95" y1="335.90" x2="360.95" y2="340.93" stroke="#5a5a90" stroke-width="0.9"/>
<line x1="364.67" y1="335.90" x2="364.67" y2="340.98" stroke="#5a5a90" stroke-width="0.9"/>
<line x1="368.38" y1="335.90" x2="368.38" y2="341.02" stroke="#5a5a90" stroke-width="0.9"/>
<line x1="372.10" y1="335.90" x2="372.10" y2="341.07" stroke="#5a5a90" stroke-width="0.9"/>
<line x1="375.82" y1="335.90" x2="375.82" y2="341.07" stroke="#5a5a90" stroke-width="0.9"/>
<line x1="379.53" y1="335.90" x2="379.53" y2="340.92" stroke="#5a5a90" stroke-width="0.9"/>
<line x1="383.25" y1="335.90" x2="383.25" y2="340.77" stroke="#5a5a90" stroke-width="0.9"/>
<line x1="386.97" y1="335.90" x2="386.97" y2="340.62" stroke="#5a5a90" stroke-width="0.9"/>
<line x1="390.69" y1="335.90" x2="390.69" y2="340.46" stroke="#5a5a90" stroke-width="0.9"/>
<line x1="394.40" y1="335.90" x2="394.40" y2="340.27" stroke="#5a5a90" stroke-width="0.9"/>
<line x1="398.12" y1="335.90" x2="398.12" y2="340.07" stroke="#5a5a90" stroke-width="0.9"/>
<line x1="401.84" y1="335.90" x2="401.84" y2="339.87" stroke="#5a5a90" stroke-width="0.9"/>
<line x1="405.56" y1="335.90" x2="405.56" y2="339.69" stroke="#5a5a90" stroke-width="0.9"/>
<line x1="409.27" y1="335.90" x2="409.27" y2="339.64" stroke="#5a5a90" stroke-width="0.9"/>
<line x1="412.99" y1="335.90" x2="412.99" y2="339.59" stroke="#5a5a90" stroke-width="0.9"/>
<line x1="416.71" y1="335.90" x2="416.71" y2="339.54" stroke="#5a5a90" stroke-width="0.9"/>
<line x1="420.42" y1="335.90" x2="420.42" y2="339.50" stroke="#5a5a90" stroke-width="0.9"/>
<line x1="424.14" y1="335.90" x2="424.14" y2="339.47" stroke="#5a5a90" stroke-width="0.9"/>
<line x1="427.86" y1="335.90" x2="427.86" y2="339.45" stroke="#5a5a90" stroke-width="0.9"/>
<line x1="431.58" y1="335.90" x2="431.58" y2="339.42" stroke="#5a5a90" stroke-width="0.9"/>
<line x1="435.29" y1="335.90" x2="435.29" y2="339.40" stroke="#5a5a90" stroke-width="0.9"/>
<line x1="439.01" y1="335.90" x2="439.01" y2="339.37" stroke="#5a5a90" stroke-width="0.9"/>
<line x1="442.73" y1="335.90" x2="442.73" y2="339.35" stroke="#5a5a90" stroke-width="0.9"/>
<line x1="446.44" y1="335.90" x2="446.44" y2="339.32" stroke="#5a5a90" stroke-width="0.9"/>
<line x1="450.16" y1="335.90" x2="450.16" y2="339.30" stroke="#5a5a90" stroke-width="0.9"/>
<line x1="453.88" y1="335.90" x2="453.88" y2="339.32" stroke="#5a5a90" stroke-width="0.9"/>
<line x1="457.60" y1="335.90" x2="457.60" y2="339.34" stroke="#5a5a90" stroke-width="0.9"/>
<line x1="461.31" y1="335.90" x2="461.31" y2="339.36" stroke="#5a5a90" stroke-width="0.9"/>
<line x1="465.03" y1="335.90" x2="465.03" y2="339.38" stroke="#5a5a90" stroke-width="0.9"/>
<line x1="468.75" y1="335.90" x2="468.75" y2="339.39" stroke="#5a5a90" stroke-width="0.9"/>
<line x1="472.46" y1="335.90" x2="472.46" y2="339.41" stroke="#5a5a90" stroke-width="0.9"/>
<line x1="476.18" y1="335.90" x2="476.18" y2="339.43" stroke="#5a5a90" stroke-width="0.9"/>
<line x1="479.90" y1="335.90" x2="479.90" y2="339.45" stroke="#5a5a90" stroke-width="0.9"/>
<line x1="483.62" y1="335.90" x2="483.62" y2="339.47" stroke="#5a5a90" stroke-width="0.9"/>
<line x1="487.33" y1="335.90" x2="487.33" y2="339.49" stroke="#5a5a90" stroke-width="0.9"/>
<line x1="491.05" y1="335.90" x2="491.05" y2="339.74" stroke="#5a5a90" stroke-width="0.9"/>
<line x1="494.77" y1="335.90" x2="494.77" y2="340.57" stroke="#5a5a90" stroke-width="0.9"/>
<line x1="498.48" y1="335.90" x2="498.48" y2="341.47" stroke="#5a5a90" stroke-width="0.9"/>
<line x1="502.20" y1="335.90" x2="502.20" y2="342.80" stroke="#5a5a90" stroke-width="0.9"/>
<line x1="505.92" y1="335.90" x2="505.92" y2="343.89" stroke="#5a5a90" stroke-width="0.9"/>
<line x1="509.64" y1="335.90" x2="509.64" y2="344.26" stroke="#5a5a90" stroke-width="0.9"/>
<line x1="513.35" y1="335.90" x2="513.35" y2="344.51" stroke="#5a5a90" stroke-width="0.9"/>
<line x1="517.07" y1="335.90" x2="517.07" y2="344.52" stroke="#5a5a90" stroke-width="0.9"/>
<line x1="520.79" y1="335.90" x2="520.79" y2="344.53" stroke="#5a5a90" stroke-width="0.9"/>
<line x1="524.50" y1="335.90" x2="524.50" y2="344.55" stroke="#5a5a90" stroke-width="0.9"/>
<line x1="528.22" y1="335.90" x2="528.22" y2="344.56" stroke="#5a5a90" stroke-width="0.9"/>
<line x1="531.94" y1="335.90" x2="531.94" y2="344.58" stroke="#5a5a90" stroke-width="0.9"/>
<line x1="535.66" y1="335.90" x2="535.66" y2="344.59" stroke="#5a5a90" stroke-width="0.9"/>
<line x1="539.37" y1="335.90" x2="539.37" y2="344.60" stroke="#5a5a90" stroke-width="0.9"/>
<line x1="543.09" y1="335.90" x2="543.09" y2="344.62" stroke="#5a5a90" stroke-width="0.9"/>
<line x1="546.81" y1="335.90" x2="546.81" y2="344.63" stroke="#5a5a90" stroke-width="0.9"/>
<line x1="550.53" y1="335.90" x2="550.53" y2="344.65" stroke="#5a5a90" stroke-width="0.9"/>
<line x1="554.24" y1="335.90" x2="554.24" y2="344.66" stroke="#5a5a90" stroke-width="0.9"/>
<line x1="557.96" y1="335.90" x2="557.96" y2="344.67" stroke="#5a5a90" stroke-width="0.9"/>
<line x1="561.68" y1="335.90" x2="561.68" y2="344.69" stroke="#5a5a90" stroke-width="0.9"/>
<line x1="565.39" y1="335.90" x2="565.39" y2="344.62" stroke="#5a5a90" stroke-width="0.9"/>
<line x1="569.11" y1="335.90" x2="569.11" y2="343.88" stroke="#5a5a90" stroke-width="0.9"/>
<line x1="572.83" y1="335.90" x2="572.83" y2="343.17" stroke="#5a5a90" stroke-width="0.9"/>
<line x1="576.55" y1="335.90" x2="576.55" y2="342.60" stroke="#5a5a90" stroke-width="0.9"/>
<line x1="580.26" y1="335.90" x2="580.26" y2="342.03" stroke="#5a5a90" stroke-width="0.9"/>
<line x1="583.98" y1="335.90" x2="583.98" y2="341.46" stroke="#5a5a90" stroke-width="0.9"/>
<line x1="587.70" y1="335.90" x2="587.70" y2="340.71" stroke="#5a5a90" stroke-width="0.9"/>
<line x1="591.41" y1="335.90" x2="591.41" y2="339.89" stroke="#5a5a90" stroke-width="0.9"/>
<line x1="595.13" y1="335.90" x2="595.13" y2="339.08" stroke="#5a5a90" stroke-width="0.9"/>
<line x1="598.85" y1="335.90" x2="598.85" y2="338.56" stroke="#5a5a90" stroke-width="0.9"/>
<line x1="602.57" y1="335.90" x2="602.57" y2="338.04" stroke="#5a5a90" stroke-width="0.9"/>
<line x1="606.28" y1="335.90" x2="606.28" y2="337.65" stroke="#5a5a90" stroke-width="0.9"/>
<line x1="610.00" y1="335.90" x2="610.00" y2="337.50" stroke="#5a5a90" stroke-width="0.9"/>
<polyline points="3,305.5 10.3,304.4 17.1,305.7 25.7,307.4 34.3,309.1 42.8,310.9 51.4,312.1 60,312.6 68.7,312.9 77.9,313.7 89.3,315.4 106.4,316.6 123.6,319.4 132,320.3 144.3,319.4 158.6,318 171.4,317.3 180,316.6 194.3,313 208.6,309.4 222.9,305.9 232.9,306 243.9,306.6 264.3,307.4 280,309.8 303.6,312.9 331.4,317.3 347.2,319.4 355.7,322 364.3,324.6 381.5,329.7 390,331.8 407.2,334 424.3,337.4 441.5,340 450,340.9 471.4,343.3 489.7,346.3 498.9,349.7 517.1,358.9 540,371 551.4,377.1 562.9,383.4 574.3,389.1 585.7,394.1 591.4,395.7 602.9,396.6 609.1,397.1" fill="none" stroke="#3a3a3a" stroke-width="0.75" stroke-linejoin="round"/>
<polyline points="3.4,301.9 10.3,304.4 17.1,307 25.7,310 29.1,312 38.6,312.1 45.4,311.8 53.1,312.5 60,312.7 68.7,313 77.9,314.9 89.3,316 106.4,317.5 125.9,321.7 135,320.3 144.3,319.4 158.6,318 171.4,317.3 180,313.7 194.3,309.4 201.4,306.6 215.7,304.4 221.4,304 230,305.1 243.9,306.7 264.3,307.6 280,310.9 303.6,314.5 331.4,320.6 347.2,322.3 355.7,324.6 364.3,327.2 376.3,331.4 381.5,332.6 398.6,334.3 415.8,337.6 432.9,340.2 441.5,341.7 450,342.2 471.4,344.7 489.7,348.6 498.9,353.1 505.7,360 517.1,365.7 540,378 551.4,385.1 562.9,391.4 574.3,396.6 580,398.3 585.7,399 597,398.3 608.6,397.5" fill="none" stroke="#b04545" stroke-width="0.75" stroke-linejoin="round"/>
<text x="44.9" y="381.2" fill="#c43a3a" font-size="15" font-family="Liberation Serif, sans-serif" stroke="#c43a3a" stroke-width="0.15" textLength="123.4" lengthAdjust="spacingAndGlyphs">scattacolpending.com</text>
</svg></body></html>
